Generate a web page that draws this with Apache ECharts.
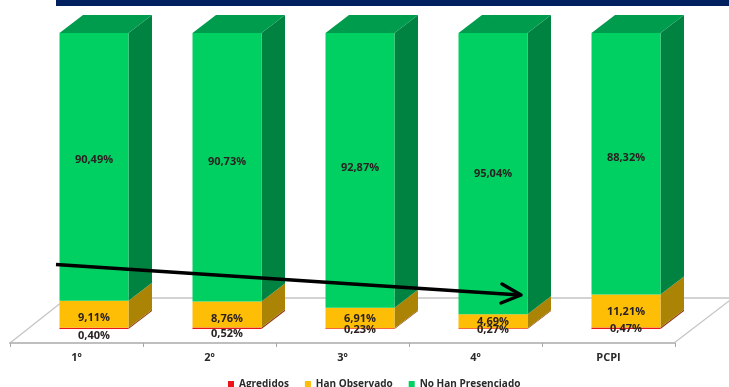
<!DOCTYPE html>
<html>
<head>
<meta charset="utf-8">
<style>html,body{margin:0;padding:0;background:#fff}#c{width:729px;height:387px}</style>
<script src="https://cdn.jsdelivr.net/npm/echarts@6/dist/echarts.min.js"></script>
</head>
<body>
<div id="c"></div>
<script>
const categories = ['1º', '2º', '3º', '4º', 'PCPI'];
const agredidos = [0.40, 0.52, 0.23, 0.27, 0.47];
const hanObservado = [9.11, 8.76, 6.91, 4.69, 11.21];
const noHanPresenciado = [90.49, 90.73, 92.87, 95.04, 88.32];

// manual label nudges of the original (pixels)
const nudgeAgredidos = [7.5, 5.5, 1, 1, 0.5];
const nudgeObservado = [3.5, 4.5, 1, 1, 0.5];
const nudgeNoPresenciado = [-7, -5.5, -2.5, 0, -6];

const BAR_W = 69, SHIFT = 17.5, DX = 23.5, DY = 18;
const FONT = '"Open Sans", sans-serif';

function stackItems(values, below) {
  return values.map((v, i) => [i, v, below.reduce((s, a) => s + a[i], 0)]);
}
function fmt(v) { return v.toFixed(2).replace('.', ',') + '%'; }

function makeSeries(name, values, below, nudge, colors, isTop) {
  return {
    name: name,
    type: 'custom',
    itemStyle: { color: colors.front },
    data: stackItems(values, below),
    encode: { x: 0, y: 1 },
    renderItem: function (params, api) {
      const i = api.value(0), v = api.value(1), b = api.value(2);
      const pTop = api.coord([i, b + v]);
      const pBot = api.coord([i, b]);
      const x0 = pTop[0] + SHIFT - BAR_W / 2, x1 = x0 + BAR_W;
      const yT = pTop[1], yB = pBot[1];
      const children = [
        { type: 'polygon', shape: { points: [[x1, yT], [x1 + DX, yT - DY], [x1 + DX, yB - DY], [x1, yB]] },
          style: { fill: colors.side } },
        { type: 'rect', shape: { x: x0, y: yT, width: BAR_W, height: yB - yT },
          style: { fill: colors.front } }
      ];
      if (isTop) {
        children.push({ type: 'polygon', shape: { points: [[x0, yT], [x0 + DX, yT - DY], [x1 + DX, yT - DY], [x1, yT]] },
          style: { fill: colors.top } });
      }
      children.push({
        type: 'text', z2: 100,
        style: {
          text: fmt(v), x: (x0 + x1) / 2, y: (yT + yB) / 2 + nudge[i],
          textAlign: 'center', textVerticalAlign: 'middle',
          font: 'bold 11px ' + FONT, fill: '#2a2222'
        }
      });
      return { type: 'group', children: children };
    }
  };
}

const chart = echarts.init(document.getElementById('c'), null, { renderer: 'canvas' });
chart.setOption({
  animation: false,
  backgroundColor: '#fff',
  grid: { left: 10, right: 54, top: 33, bottom: 58 },
  xAxis: {
    type: 'category',
    data: categories,
    offset: 14,
    axisLine: { onZero: false, lineStyle: { color: '#bfbfbf', width: 2 } },
    axisTick: { show: true, length: 4, lineStyle: { color: '#a6a6a6', width: 1 } },
    axisLabel: { margin: 9, color: '#2a2a2a', fontFamily: FONT, fontWeight: 'bold', fontSize: 11 }
  },
  yAxis: { type: 'value', min: 0, max: 100, show: false },
  legend: {
    left: 223, top: 374, itemWidth: 6, itemHeight: 6, itemGap: 16,
    icon: 'rect',
    data: ['Agredidos', 'Han Observado', 'No Han Presenciado'],
    textStyle: { color: '#2a2a2a', fontFamily: FONT, fontWeight: 'bold', fontSize: 10 }
  },
  series: [
    makeSeries('Agredidos', agredidos, [], nudgeAgredidos,
      { front: '#e8141a', side: '#8f3210' }, false),
    makeSeries('Han Observado', hanObservado, [agredidos], nudgeObservado,
      { front: '#fdbe05', side: '#ab8406' }, false),
    makeSeries('No Han Presenciado', noHanPresenciado, [agredidos, hanObservado], nudgeNoPresenciado,
      { front: '#00cf62', side: '#008241', top: '#009c4e' }, true)
  ],
  graphic: [
    { type: 'rect', z: 50, shape: { x: 56, y: 0, width: 673, height: 6 }, style: { fill: '#002060' } },
    { type: 'line', z: 0, shape: { x1: 10, y1: 343, x2: 67, y2: 298 }, style: { stroke: '#c4c4c4', lineWidth: 1.2 } },
    { type: 'line', z: 0, shape: { x1: 67, y1: 298, x2: 729, y2: 298 }, style: { stroke: '#c4c4c4', lineWidth: 1.6 } },
    { type: 'line', z: 0, shape: { x1: 674, y1: 343, x2: 733, y2: 298 }, style: { stroke: '#c4c4c4', lineWidth: 1.2 } },
    { type: 'line', z: 50, shape: { x1: 56, y1: 264.5, x2: 520, y2: 295 }, style: { stroke: '#000', lineWidth: 3.5 } },
    { type: 'polyline', z: 50, shape: { points: [[502, 284], [521, 295], [501, 303]] },
      style: { stroke: '#000', fill: 'none', lineWidth: 3.5, lineCap: 'round', lineJoin: 'round' } }
  ]
});
</script>
</body>
</html>
